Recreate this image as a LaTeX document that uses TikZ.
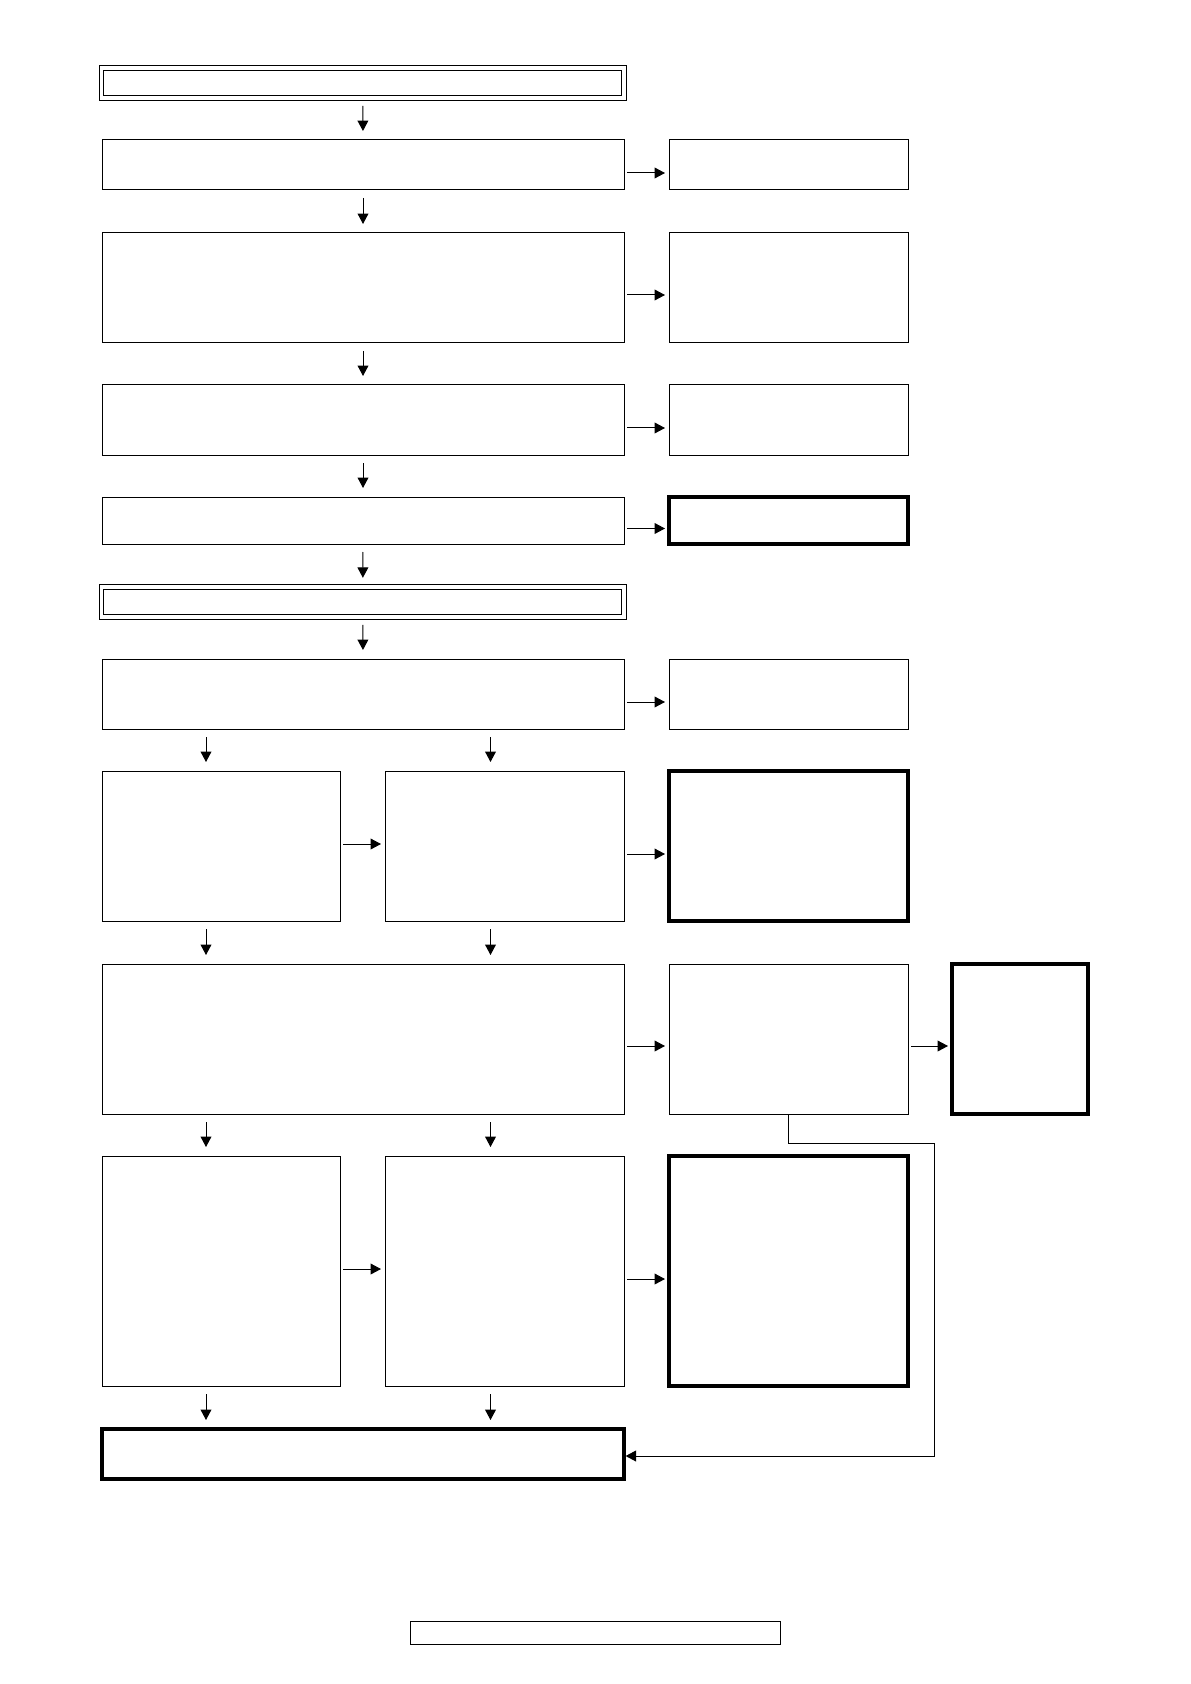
\documentclass[tikz,border=0pt]{standalone}
\usetikzlibrary{arrows.meta,calc}
\tikzset{
  box/.style={draw, line width=0.5pt, inner sep=0pt, outer sep=0pt, anchor=north west},
  boldbox/.style={box, line width=1.7pt},
  dbox/.style={box, double, double distance=1.9pt},
  flow/.style={line width=0.5pt, -{Triangle[length=5.2pt,width=5.4pt]}},
  down/.style={flow, shorten <=4pt, shorten >=4.5pt},
  side/.style={flow, shorten <=1.7pt, shorten >=2pt},
}
\begin{document}
\begin{tikzpicture}[x=0.5pt, y=-0.5pt]
    \useasboundingbox (0,0) rectangle (1190,1684);
    % main column
    \node[dbox, minimum width=261.3pt, minimum height=15pt] (top) at (101.5,67.8) {};
    \node[box, minimum width=261pt, minimum height=25pt] (a1) at (102,140) {};
    \node[box, minimum width=261pt, minimum height=55pt] (a2) at (102,233) {};
    \node[box, minimum width=261pt, minimum height=35pt] (a3) at (102,385) {};
    \node[box, minimum width=261pt, minimum height=23.5pt] (a4) at (102,497) {};
    \node[dbox, minimum width=261.3pt, minimum height=15pt] (mid) at (101.5,586.8) {};
    \node[box, minimum width=261pt, minimum height=35pt] (a5) at (102,659) {};
    \node[box, minimum width=119pt, minimum height=75pt] (b1) at (102,771) {};
    \node[box, minimum width=119.5pt, minimum height=75pt] (b2) at (385,771) {};
    \node[box, minimum width=261pt, minimum height=75pt] (c) at (102,964) {};
    \node[box, minimum width=119pt, minimum height=115pt] (d1) at (102,1156) {};
    \node[box, minimum width=119.5pt, minimum height=115pt] (d2) at (385,1156) {};
    \node[boldbox, minimum width=261pt, minimum height=25pt] (e) at (102,1429) {};
    % side column
    \node[box, minimum width=119.5pt, minimum height=25pt] (s1) at (669,140) {};
    \node[box, minimum width=119.5pt, minimum height=55pt] (s2) at (669,233) {};
    \node[box, minimum width=119.5pt, minimum height=35pt] (s3) at (669,385) {};
    \node[boldbox, minimum width=119.5pt, minimum height=23.5pt] (s4) at (669,497) {};
    \node[box, minimum width=119.5pt, minimum height=35pt] (s5) at (669,659) {};
    \node[boldbox, minimum width=119.5pt, minimum height=75pt] (s6) at (669,771) {};
    \node[box, minimum width=119.5pt, minimum height=75pt] (s7) at (669,964) {};
    \node[boldbox, minimum width=68pt, minimum height=75pt] (t) at (952,964) {};
    \node[boldbox, minimum width=119.5pt, minimum height=115pt] (s8) at (669,1156) {};
    % footer
    \node[box, minimum width=185pt, minimum height=11.5pt] (foot) at (410,1621) {};
    % arrows down
    \draw[down] (top.south) -- (a1.north);
    \draw[down] (a1.south) -- (a2.north);
    \draw[down] (a2.south) -- (a3.north);
    \draw[down] (a3.south) -- (a4.north);
    \draw[down] (a4.south) -- (mid.north);
    \draw[down] (mid.south) -- (a5.north);
    \draw[down] ($(b1.north |- a5.south)+(-15,0)$) -- ($(b1.north)+(-15,0)$);
    \draw[down] ($(b2.north |- a5.south)+(-14,0)$) -- ($(b2.north)+(-14,0)$);
    \draw[down] ($(b1.south)+(-15,0)$) -- ($(c.north -| b1.south)+(-15,0)$);
    \draw[down] ($(b2.south)+(-14,0)$) -- ($(c.north -| b2.south)+(-14,0)$);
    \draw[down] ($(c.south -| d1.north)+(-15,0)$) -- ($(d1.north)+(-15,0)$);
    \draw[down] ($(c.south -| d2.north)+(-14,0)$) -- ($(d2.north)+(-14,0)$);
    \draw[down] ($(d1.south)+(-15,0)$) -- ($(e.north -| d1.south)+(-15,0)$);
    \draw[down] ($(d2.south)+(-14,0)$) -- ($(e.north -| d2.south)+(-14,0)$);
    % arrows to the side
    \draw[side] ($(a1.east)+(0,8)$) -- ($(s1.west)+(0,8)$);
    \draw[side] ($(a2.east)+(0,7)$) -- ($(s2.west)+(0,7)$);
    \draw[side] ($(a3.east)+(0,8)$) -- ($(s3.west)+(0,8)$);
    \draw[side] ($(a4.east)+(0,8)$) -- ($(s4.west)+(0,8)$);
    \draw[side] ($(a5.east)+(0,8)$) -- ($(s5.west)+(0,8)$);
    \draw[side] ($(b1.east)+(0,-2)$) -- ($(b2.west)+(0,-2)$);
    \draw[side] ($(b2.east)+(0,8)$) -- ($(s6.west)+(0,8)$);
    \draw[side] ($(c.east)+(0,7)$) -- ($(s7.west)+(0,7)$);
    \draw[side] ($(s7.east)+(0,7)$) -- ($(t.west)+(0,7)$);
    \draw[side] ($(d1.east)+(0,-2)$) -- ($(d2.west)+(0,-2)$);
    \draw[side] ($(d2.east)+(0,8)$) -- ($(s8.west)+(0,8)$);
    % way back
    \coordinate (bend) at (934,1143);
    \draw[flow, shorten >=0.8pt] (s7.south) |- (bend) |- ($(e.east)+(0,2)$);
\end{tikzpicture}
\end{document}
